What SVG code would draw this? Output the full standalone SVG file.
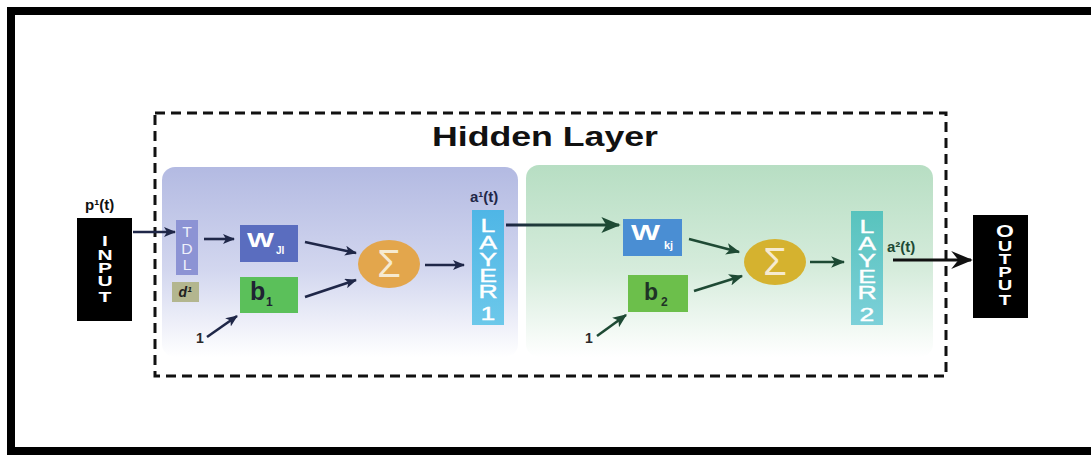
<svg xmlns="http://www.w3.org/2000/svg" width="1091" height="455" viewBox="0 0 1091 455">
<defs>
<linearGradient id="gBlue" x1="0" y1="0" x2="0" y2="1">
<stop offset="0" stop-color="#b3bae2"/><stop offset="0.55" stop-color="#d3d7ef"/><stop offset="1" stop-color="#ffffff"/>
</linearGradient>
<linearGradient id="gGreen" x1="0" y1="0" x2="0" y2="1">
<stop offset="0" stop-color="#b7dec3"/><stop offset="0.55" stop-color="#d6ecdc"/><stop offset="1" stop-color="#ffffff"/>
</linearGradient>
<linearGradient id="gL1" x1="0" y1="0" x2="0" y2="1">
<stop offset="0" stop-color="#4fb6e6"/><stop offset="1" stop-color="#6cc8ea"/>
</linearGradient>
<linearGradient id="gL2" x1="0" y1="0" x2="0" y2="1">
<stop offset="0" stop-color="#58c3bd"/><stop offset="1" stop-color="#7cd0d9"/>
</linearGradient>
<linearGradient id="gLink" gradientUnits="userSpaceOnUse" x1="506" y1="0" x2="619" y2="0">
<stop offset="0" stop-color="#1d2446"/><stop offset="0.25" stop-color="#1f3a3a"/><stop offset="1" stop-color="#1e4a34"/>
</linearGradient>
<marker id="aNavy" viewBox="0 0 12 10" refX="11" refY="5" markerWidth="12" markerHeight="10" markerUnits="userSpaceOnUse" orient="auto">
<path d="M0,0 L12,5 L0,10 L3,5 z" fill="#1f2748"/>
</marker>
<marker id="aGreen" viewBox="0 0 12 10" refX="11" refY="5" markerWidth="14" markerHeight="12" markerUnits="userSpaceOnUse" orient="auto">
<path d="M0,0 L12,5 L0,10 L3,5 z" fill="#1e4a34"/>
</marker>
<marker id="aGreenBig" viewBox="0 0 12 10" refX="11" refY="5" markerWidth="26" markerHeight="16" markerUnits="userSpaceOnUse" orient="auto">
<path d="M0,0 L12,5 L0,10 L3,5 z" fill="#1e4a34"/>
</marker>
<marker id="aBlackBig" viewBox="0 0 12 10" refX="11" refY="5" markerWidth="22" markerHeight="18" markerUnits="userSpaceOnUse" orient="auto">
<path d="M0,0 L12,5 L0,10 L4,5 z" fill="#111111"/>
</marker>
</defs>
<style>
text{font-family:"Liberation Sans",Arial,sans-serif;font-weight:bold}
.vw{fill:#ffffff;font-size:15px;text-anchor:middle}
.lay{fill:#ffffff;font-size:19px;font-weight:normal;text-anchor:middle;stroke:#ffffff;stroke-width:0.4}
.tdl{fill:#eef0fb;font-size:15px;font-weight:normal;text-anchor:middle}
.lbl{font-size:15px}
.nv{stroke:#1f2748;stroke-width:2.6;fill:none}
.gr{stroke:#1e4a34;stroke-width:2.6;fill:none}
.sig{fill:#f6ead0;font-size:38px;font-weight:normal;text-anchor:middle}
</style>
<rect width="1091" height="455" fill="#ffffff"/>
<rect x="11" y="11" width="1120" height="440" fill="none" stroke="#000" stroke-width="8"/>

<g id="panels">
<rect x="162" y="167" width="356" height="190" rx="13" fill="url(#gBlue)"/>
<rect x="526" y="165" width="407" height="192" rx="13" fill="url(#gGreen)"/>
</g>
<g id="hidden-layer">
<rect x="155" y="113" width="791" height="263" fill="none" stroke="#111" stroke-width="3" stroke-dasharray="10,6"/>
<text x="545" y="146" font-size="28" text-anchor="middle" fill="#111" textLength="226" lengthAdjust="spacingAndGlyphs">Hidden Layer</text>
</g>

<g id="input">
<rect x="77" y="218" width="55" height="103" fill="#000"/>
<text class="vw" transform="translate(105,0) scale(1.4,1)"><tspan x="0" y="246">I</tspan><tspan x="0" y="260">N</tspan><tspan x="0" y="273">P</tspan><tspan x="0" y="286">U</tspan><tspan x="0" y="302">T</tspan></text>
<text class="lbl" x="85" y="210" fill="#111">p¹(t)</text>
</g>

<g id="tdl">
<rect x="176" y="220" width="22" height="55" fill="#8c93d4"/>
<text class="tdl" transform="translate(187,0) scale(1.05,1)"><tspan x="0" y="237">T</tspan><tspan x="0" y="254">D</tspan><tspan x="0" y="270">L</tspan></text>
</g>
<g id="d1">
<rect x="172" y="282" width="27" height="20" fill="#b3b68f"/>
<text x="185" y="297" font-size="14" font-style="italic" fill="#222" text-anchor="middle">d¹</text>
</g>

<g id="wji">
<rect x="240" y="225" width="58" height="37" fill="#5a6dbf"/>
<text x="247" y="247" font-size="21" fill="#fff" textLength="27" lengthAdjust="spacingAndGlyphs">W</text>
<text x="276" y="254" font-size="10" fill="#fff">JI</text>
</g>
<g id="b1">
<rect x="240" y="277" width="58" height="36" fill="#5bc05a"/>
<text x="250" y="300" font-size="25" fill="#1f2333">b</text>
<text x="266" y="306" font-size="12" fill="#1f2333">1</text>
</g>
<g id="one1"><text x="196" y="343" font-size="14" fill="#2a2a2a">1</text></g>

<g id="sum1">
<ellipse cx="389" cy="264" rx="31" ry="24" fill="#e3a64c"/>
<text class="sig" x="389" y="277">Σ</text>
</g>

<g id="layer1">
<rect x="472" y="210" width="32" height="115" fill="url(#gL1)"/>
<text class="lay" transform="translate(488,0) scale(1.4,1)"><tspan x="0" y="232">L</tspan><tspan x="0" y="249">A</tspan><tspan x="0" y="266">Y</tspan><tspan x="0" y="282">E</tspan><tspan x="0" y="298">R</tspan><tspan x="0" y="320">1</tspan></text>
<text class="lbl" x="470" y="202" fill="#1f2748" font-size="14">a¹(t)</text>
</g>

<g id="wkj">
<rect x="623" y="219" width="59" height="37" fill="#4a8ed3"/>
<text x="631" y="240" font-size="22" fill="#fff" textLength="29" lengthAdjust="spacingAndGlyphs">W</text>
<text x="664" y="249" font-size="11" fill="#fff">kj</text>
</g>
<g id="b2">
<rect x="628" y="275" width="60" height="37" fill="#6cbf4b"/>
<text x="644" y="300" font-size="23" fill="#1f3326">b</text>
<text x="661" y="306" font-size="12" fill="#1f3326">2</text>
</g>
<g id="one2"><text x="585" y="343" font-size="14" fill="#2a2a2a">1</text></g>

<g id="sum2">
<ellipse cx="775" cy="262" rx="31" ry="23" fill="#d5b22f"/>
<text class="sig" x="775" y="275">Σ</text>
</g>

<g id="layer2">
<rect x="851" y="211" width="32" height="114" fill="url(#gL2)"/>
<text class="lay" transform="translate(867,0) scale(1.4,1)"><tspan x="0" y="233">L</tspan><tspan x="0" y="250">A</tspan><tspan x="0" y="267">Y</tspan><tspan x="0" y="283">E</tspan><tspan x="0" y="299">R</tspan><tspan x="0" y="321">2</tspan></text>
<text class="lbl" x="887" y="252" fill="#1e4a34" font-size="14">a²(t)</text>
</g>

<g id="output">
<rect x="973" y="215" width="55" height="103" fill="#000"/>
<text class="vw" transform="translate(1005,0) scale(1.35,1)"><tspan x="0" y="237" font-size="17">O</tspan><tspan x="0" y="251">U</tspan><tspan x="0" y="264">T</tspan><tspan x="0" y="277">P</tspan><tspan x="0" y="290">U</tspan><tspan x="0" y="305">T</tspan></text>
</g>

<g id="connectors">
<line class="nv" x1="133" y1="232" x2="175" y2="232" marker-end="url(#aNavy)"/>
<line class="nv" x1="204" y1="239" x2="234" y2="239" marker-end="url(#aNavy)"/>
<line class="nv" x1="305" y1="242" x2="356" y2="253" marker-end="url(#aNavy)"/>
<line class="nv" x1="305" y1="297" x2="356" y2="280" marker-end="url(#aNavy)"/>
<line class="nv" x1="207" y1="337" x2="237" y2="316" marker-end="url(#aNavy)" stroke-width="2"/>
<line class="nv" x1="425" y1="265" x2="464" y2="265" marker-end="url(#aNavy)"/>
<path d="M506,225 L619,225" fill="none" stroke="url(#gLink)" stroke-width="3" marker-end="url(#aGreenBig)"/>
<line class="gr" x1="689" y1="239" x2="739" y2="252" marker-end="url(#aGreen)"/>
<line class="gr" x1="694" y1="291" x2="742" y2="276" marker-end="url(#aGreen)" stroke-width="3"/>
<line class="gr" x1="597" y1="336" x2="626" y2="315" marker-end="url(#aGreen)" stroke-width="2"/>
<line class="gr" x1="810" y1="262" x2="844" y2="262" marker-end="url(#aGreen)"/>
<line x1="893" y1="260" x2="971" y2="260" stroke="#111" stroke-width="3" marker-end="url(#aBlackBig)"/>
</g>
</svg>
